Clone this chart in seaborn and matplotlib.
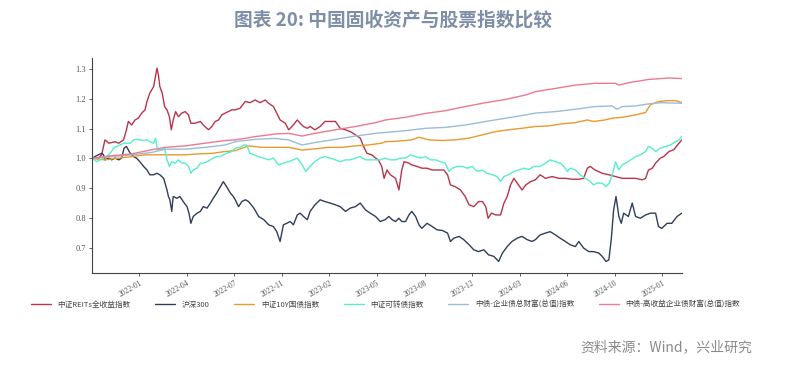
import pandas as pd
import matplotlib.pyplot as plt
import seaborn as sns

sns.set_theme(style="white")
plt.rcParams['font.family'] = ['Noto Sans CJK SC', 'DejaVu Sans']

# --- dados (dias desde 2021-09-24, valor normalizado) ---
start_date = "2021-09-24"

series_names = ['中证REITs全收益指数', '沪深300', '中证10Y国债指数', '中证可转债指数',
                '中债-企业债总财富(总值)指数', '中债-高收益企业债财富(总值)指数']
series_colors = ['#b8354a', '#2f3e5a', '#e89a2c', '#55efcc', '#9bbcd8', '#ec7a90']

reits_days = [0, 13, 20, 27, 35, 41, 48, 56, 66, 72, 76, 83, 90, 97, 104, 111, 115, 121, 129, 136,
              139, 142, 147, 152, 157, 162, 166, 170, 175, 181, 188, 195, 202, 207, 216, 227, 233, 244,
              251, 258, 265, 272, 279, 293,
              300, 310, 321, 331, 342, 352, 363, 370, 380, 387, 394, 405, 412, 419, 430, 436, 443, 451,
              457, 467, 478, 488, 499, 510, 520, 531, 541, 552, 562, 569, 576, 586, 594, 600, 607, 612, 618,
              625, 636, 643, 649, 654, 664, 670, 681, 691, 702, 713, 727, 737, 745, 751, 761, 772, 782,
              790, 800, 810, 818, 825, 830, 837, 846, 856, 863, 870, 877, 884, 891, 901, 909, 919,
              929, 939, 950, 964, 978, 992, 1006, 1020, 1030, 1038, 1044, 1054, 1069, 1083, 1097, 1111,
              1124, 1139, 1153, 1160, 1166, 1174, 1181, 1191, 1198, 1209, 1219, 1230, 1236]
reits_vals = [1.000, 1.000, 1.012, 1.062, 1.051, 1.053, 1.056, 1.051, 1.062, 1.096, 1.124, 1.112, 1.129,
              1.135, 1.152, 1.163, 1.191, 1.219, 1.241, 1.303, 1.280, 1.241, 1.219, 1.174, 1.163, 1.140,
              1.096, 1.129, 1.157, 1.140, 1.152, 1.157, 1.146, 1.118, 1.118, 1.124, 1.112, 1.096, 1.107,
              1.124, 1.129, 1.146, 1.152, 1.163,
              1.163, 1.168, 1.191, 1.187, 1.196, 1.187, 1.196, 1.185, 1.174, 1.152, 1.129, 1.118, 1.096,
              1.107, 1.129, 1.118, 1.107, 1.101, 1.107, 1.096, 1.107, 1.124, 1.124, 1.124, 1.101, 1.096,
              1.090, 1.079, 1.068, 1.040, 1.017, 1.012, 1.001, 0.995, 0.973, 0.933, 0.961,
              0.945, 0.933, 0.894, 0.961, 0.989, 0.984, 0.978, 0.973, 0.967, 0.967, 0.961, 0.961, 0.961,
              0.945, 0.911, 0.905, 0.894, 0.872, 0.844, 0.838, 0.855, 0.855, 0.838, 0.799, 0.816, 0.810,
              0.810, 0.849, 0.872, 0.911, 0.933, 0.917, 0.894, 0.911, 0.922,
              0.928, 0.945, 0.933, 0.939, 0.933, 0.933, 0.930, 0.930, 0.933, 0.967, 0.973, 0.961, 0.950,
              0.945, 0.939, 0.933, 0.933, 0.933, 0.928, 0.933, 0.961, 0.967, 0.984, 1.001, 1.006, 1.023,
              1.029, 1.051, 1.062]

hs300_days = [0, 6, 13, 20, 24, 27, 35, 41, 48, 56, 62, 67, 72, 80, 87, 93, 100, 108, 115, 121, 129, 136,
              142, 150, 157, 160, 163, 167, 170, 178, 184, 191, 199, 203, 207, 212, 220, 227, 233, 241, 248,
              254, 261, 269, 275, 282, 290, 296,
              300, 307, 314, 321, 328, 339, 349, 360, 370, 380, 387, 394, 401, 408, 415, 422, 430, 436, 443,
              451, 457, 467, 478, 488, 499, 510, 520, 531, 541, 552, 562, 573, 583, 594, 604, 614,
              622, 629, 636, 643, 649, 657, 664, 670, 678, 685, 691, 702, 713, 723, 734, 745, 751, 758, 769,
              779, 790, 800, 810, 821, 831, 842, 852, 860, 870, 880, 891, 901, 912, 922,
              929, 939, 950, 960, 971, 981, 992, 1002, 1013, 1020, 1030, 1041, 1051, 1062, 1069, 1077, 1083,
              1088, 1093, 1098, 1104, 1109, 1114, 1124, 1132, 1139, 1149, 1160, 1170, 1181, 1187, 1194, 1205,
              1215, 1226, 1236]
hs300_vals = [1.000, 1.006, 1.012, 1.017, 1.012, 0.995, 1.001, 0.995, 1.001, 0.995, 1.001, 1.034, 1.040,
              1.017, 1.006, 1.001, 0.989, 0.973, 0.961, 0.945, 0.945, 0.950, 0.945, 0.933, 0.894, 0.872,
              0.861, 0.822, 0.872, 0.866, 0.872, 0.855, 0.838, 0.816, 0.782, 0.805, 0.816, 0.822, 0.838,
              0.833, 0.850, 0.866, 0.883, 0.905, 0.922, 0.905, 0.883, 0.872,
              0.861, 0.838, 0.855, 0.861, 0.855, 0.833, 0.805, 0.794, 0.777, 0.771, 0.754, 0.721, 0.777,
              0.782, 0.788, 0.777, 0.810, 0.816, 0.805, 0.794, 0.822, 0.844, 0.861, 0.855, 0.850, 0.844,
              0.838, 0.822, 0.833, 0.838, 0.850, 0.827, 0.816, 0.805, 0.788, 0.794,
              0.805, 0.794, 0.788, 0.799, 0.788, 0.788, 0.810, 0.822, 0.805, 0.777, 0.765, 0.782, 0.771,
              0.760, 0.758, 0.749, 0.721, 0.732, 0.738, 0.727, 0.710, 0.693, 0.687, 0.693, 0.676, 0.671,
              0.654, 0.682, 0.704, 0.721, 0.732, 0.738, 0.727, 0.721,
              0.727, 0.743, 0.749, 0.754, 0.743, 0.732, 0.721, 0.710, 0.704, 0.721, 0.699, 0.687, 0.687,
              0.682, 0.671, 0.654, 0.659, 0.727, 0.827, 0.872, 0.805, 0.782, 0.816, 0.805, 0.850, 0.805,
              0.799, 0.810, 0.816, 0.816, 0.771, 0.765, 0.782, 0.782, 0.805, 0.816]

gz10y_days = [0, 27, 56, 83, 111, 139, 167, 195, 223, 251, 279, 300, 328, 355, 384, 412, 440, 467, 495,
              524, 552, 579, 607, 615, 643, 670, 685, 706, 734, 761, 790, 818, 846, 873, 901, 929, 957, 985,
              1013, 1038, 1051, 1075, 1090, 1111, 1139, 1160, 1170, 1187, 1209, 1223, 1236]
gz10y_vals = [1.000, 0.995, 1.001, 1.006, 1.012, 1.012, 1.012, 1.012, 1.015, 1.017, 1.023, 1.026, 1.042,
              1.037, 1.037, 1.037, 1.028, 1.032, 1.037, 1.037, 1.042, 1.045, 1.051, 1.056, 1.058, 1.062,
              1.071, 1.062, 1.060, 1.062, 1.068, 1.079, 1.090, 1.096, 1.101, 1.107, 1.109, 1.116, 1.120,
              1.129, 1.124, 1.129, 1.135, 1.138, 1.146, 1.154, 1.180, 1.191, 1.194, 1.194, 1.187]

kzz_days = [0, 10, 17, 24, 30, 38, 45, 51, 59, 66, 80, 87, 93, 100, 108, 115, 121, 129, 133, 137, 145, 152,
            157, 162, 167, 174, 181, 188, 195, 202, 207, 212, 220, 227, 233, 241, 248, 254, 261, 269, 275,
            282, 293,
            300, 310, 318, 324, 331, 339, 349, 360, 370, 380, 391, 401, 412, 422, 430, 440, 448, 457, 467,
            478, 488, 499, 510, 520, 531, 541, 552, 562, 573, 583, 594, 604, 614,
            625, 636, 646, 657, 667, 678, 688, 699, 709, 720, 730, 740, 748, 755, 765, 776, 786, 797, 807,
            818, 828, 839, 849, 856, 863, 873, 884, 894, 905, 915, 926,
            939, 950, 960, 971, 981, 989, 996, 1002, 1013, 1023, 1034, 1044, 1051, 1059, 1069, 1077, 1084,
            1091, 1097, 1104, 1111, 1118, 1129, 1139, 1149, 1160, 1166, 1174, 1181, 1191, 1202, 1212,
            1223, 1230, 1236]
kzz_vals = [1.000, 0.989, 0.995, 1.001, 1.006, 1.017, 1.034, 1.040, 1.045, 1.051, 1.051, 1.062, 1.064,
            1.062, 1.060, 1.062, 1.056, 1.051, 1.068, 1.029, 1.029, 1.034, 0.995, 0.973, 0.989, 0.984,
            0.995, 0.984, 0.984, 0.973, 0.950, 0.961, 0.967, 0.984, 0.984, 0.989, 0.995, 1.001, 1.006,
            1.006, 1.012, 1.017, 1.023,
            1.034, 1.037, 1.045, 1.045, 1.017, 1.012, 1.006, 1.001, 0.995, 1.001, 0.978, 0.984, 0.989,
            0.995, 1.001, 0.978, 0.956, 0.973, 0.989, 1.001, 1.006, 1.001, 0.995, 0.989, 0.995, 0.995,
            1.001, 1.006, 0.995, 0.995, 0.995, 0.995, 1.001,
            0.995, 0.995, 1.001, 1.001, 1.012, 1.006, 1.001, 1.006, 0.995, 0.995, 0.989, 0.984, 0.956,
            0.967, 0.973, 0.973, 0.967, 0.973, 0.956, 0.961, 0.950, 0.945, 0.939, 0.922, 0.939, 0.945,
            0.956, 0.961, 0.967, 0.963, 0.973,
            0.973, 0.984, 0.995, 0.989, 0.984, 0.973, 0.956, 0.967, 0.961, 0.945, 0.933, 0.922, 0.911,
            0.917, 0.917, 0.905, 0.917, 0.950, 0.989, 0.961, 0.978, 0.984, 0.995, 1.006, 1.012, 1.023,
            1.040, 1.034, 1.023, 1.034, 1.040, 1.045, 1.056, 1.062, 1.073]

qyz_days = [0, 41, 83, 125, 153, 195, 237, 279, 300, 342, 384, 412, 440, 467, 510, 552, 594, 615, 657, 699,
            740, 782, 825, 867, 909, 929, 971, 1013, 1054, 1090, 1100, 1111, 1139, 1166, 1194, 1236]
qyz_vals = [1.000, 1.006, 1.012, 1.020, 1.031, 1.031, 1.037, 1.045, 1.056, 1.064, 1.067, 1.062, 1.045,
            1.053, 1.064, 1.075, 1.084, 1.087, 1.093, 1.101, 1.104, 1.112, 1.124, 1.135, 1.146, 1.152,
            1.157, 1.165, 1.174, 1.176, 1.165, 1.174, 1.176, 1.183, 1.187, 1.185]

gsy_days = [0, 41, 83, 125, 153, 195, 237, 279, 300, 342, 384, 412, 440, 467, 510, 552, 594, 615, 657, 699,
            740, 782, 825, 867, 909, 929, 971, 1013, 1054, 1097, 1104, 1124, 1166, 1209, 1236]
gsy_vals = [1.000, 1.009, 1.015, 1.029, 1.037, 1.042, 1.051, 1.060, 1.062, 1.073, 1.082, 1.084, 1.075,
            1.084, 1.096, 1.107, 1.120, 1.129, 1.138, 1.151, 1.160, 1.174, 1.187, 1.198, 1.213, 1.224,
            1.235, 1.246, 1.252, 1.252, 1.246, 1.254, 1.265, 1.270, 1.268]

tick_labels = ['2022-01', '2022-04', '2022-07', '2022-11', '2023-02', '2023-05',
               '2023-08', '2023-12', '2024-03', '2024-06', '2024-10', '2025-01']
y_ticks = [0.7, 0.8, 0.9, 1.0, 1.1, 1.2, 1.3]

# --- tabela longa para o seaborn ---
all_days = [reits_days, hs300_days, gz10y_days, kzz_days, qyz_days, gsy_days]
all_vals = [reits_vals, hs300_vals, gz10y_vals, kzz_vals, qyz_vals, gsy_vals]
frames = []
for nome, d, v in zip(series_names, all_days, all_vals):
    frames.append(pd.DataFrame({
        'data': pd.Timestamp(start_date) + pd.to_timedelta(d, unit='D'),
        'valor': v,
        'indice': nome,
    }))
df = pd.concat(frames, ignore_index=True)

fig = plt.figure(figsize=(7.87, 3.66), dpi=100)
ax = fig.add_axes([0.117, 0.254, 0.750, 0.5875])

sns.lineplot(data=df, x='data', y='valor', hue='indice', hue_order=series_names,
             palette=series_colors, estimator=None, sort=False, linewidth=1.0, ax=ax)

ax.set_xlim(pd.Timestamp(start_date), pd.Timestamp(start_date) + pd.Timedelta(days=1237))
ax.set_ylim(0.615, 1.337)
ax.set_xlabel('')
ax.set_ylabel('')

tick_pos = pd.date_range('2022-01-01', '2025-01-01', periods=len(tick_labels))
ax.set_xticks(tick_pos)
ax.set_xticklabels(tick_labels, rotation=30, ha='right', rotation_mode='anchor',
                   fontsize=5.5, color='#555555', family=['Liberation Serif'])
ax.set_yticks(y_ticks)
ax.set_yticklabels([f'{t:.1f}' for t in y_ticks], fontsize=6, color='#555555',
                   family=['Liberation Serif'])
ax.tick_params(axis='both', direction='out', length=2.5, width=0.6, color='#444444', pad=2)
ax.tick_params(axis='x', bottom=True)
ax.tick_params(axis='y', left=True)

for lado in ['top', 'right']:
    ax.spines[lado].set_visible(False)
for lado in ['left', 'bottom']:
    ax.spines[lado].set_color('#444444')
    ax.spines[lado].set_linewidth(0.8)

handles, labels = ax.get_legend_handles_labels()
ax.get_legend().remove()
fig.legend(handles, labels, loc='center', bbox_to_anchor=(0.49, 0.167), ncol=6, frameon=False,
           fontsize=5.5, handlelength=2.6, handletextpad=0.9, columnspacing=3.2,
           labelcolor='#444444')

fig.text(0.5, 0.945, '图表 20: 中国固收资产与股票指数比较', ha='center', va='center',
         fontsize=13.5, fontweight='bold', color='#7d8ea6')
fig.text(0.956, 0.052, '资料来源：Wind，兴业研究', ha='right', va='center',
         fontsize=10, color='#8a8a8a')

fig.savefig('out.png', dpi=100)
